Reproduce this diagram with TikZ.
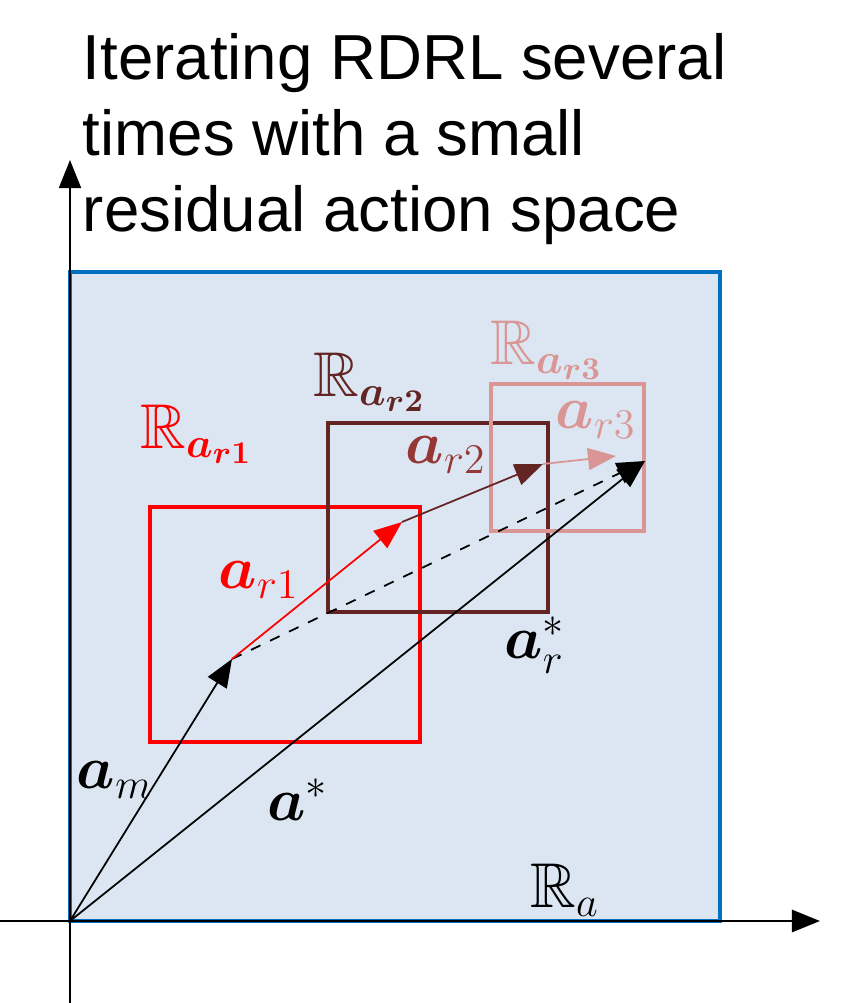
\documentclass[tikz,border=0pt]{standalone}
\usepackage{fontspec}
\usepackage{amsmath,amssymb,bm}
\usetikzlibrary{arrows.meta}
\newfontfamily\titlefont{Liberation Sans}
\definecolor{nenxanh}{RGB}{220,230,242}
\definecolor{vienxanh}{RGB}{0,112,192}
\definecolor{naudam}{RGB}{99,37,35}
\definecolor{nauvua}{RGB}{149,55,53}
\definecolor{hong}{RGB}{218,150,148}
\begin{document}
\begin{tikzpicture}[>={Triangle[length=2.8mm,width=2.2mm]}, line width=.5pt,
    nhan/.style={inner sep=0pt, font=\fontsize{18}{20}\selectfont},
    hop/.style={line width=1pt}]
    \useasboundingbox (-.7,-.82) rectangle (7.79,9.21);
    \coordinate (O) at (0,0); %Điểm O
    \coordinate (xt) at (-.7,0); \coordinate (xp) at (7.5,0);
    \coordinate (yd) at (0,-.82); \coordinate (yt) at (0,7.61);
    \coordinate (M) at (1.62,2.62); %Ngọn a_m
    \coordinate (P1) at (3.32,3.99);
    \coordinate (P2) at (4.73,4.57);
    \coordinate (P3) at (5.46,4.65);
    \coordinate (A) at (5.75,4.60); %Ngọn a^*
    \draw[hop, fill=nenxanh, draw=vienxanh] (O) rectangle (6.5,6.49); %Miền R_a
    \draw[->, line width=.8pt] (xt) -- (xp); %Trục Ox
    \draw[->] (yd) -- (yt); %Trục Oy
    \node[anchor=base west, align=left, inner sep=0pt, font=\titlefont\fontsize{18.1}{21.6}\selectfont] (tieude) at (.12,6.90)
        {Iterating RDRL several\\times with a small\\residual action space};
    \draw[hop, red] (.8,1.79) rectangle (3.5,4.14);
    \draw[hop, naudam] (2.58,3.09) rectangle (4.78,4.98);
    \draw[hop, hong] (4.21,3.90) rectangle (5.74,5.37);
    \draw[->] (O) -- (M);
    \draw[->] (O) -- (A);
    \draw[->, dashed] (M) -- (A);
    \draw[->, red] (M) -- (P1);
    \draw[->, naudam] (P1) -- (P2);
    \draw[->, hong] (P2) -- (P3);
    \node[nhan, text=red] (Rr1) at (1.27,4.87) {$\mathbb{R}_{\bm{a_{r1}}}$};
    \node[nhan, text=naudam] (Rr2) at (3.00,5.39) {$\mathbb{R}_{\bm{a_{r2}}}$};
    \node[nhan, text=hong] (Rr3) at (4.77,5.71) {$\mathbb{R}_{\bm{a_{r3}}}$};
    \node[nhan, text=red] (ar1) at (1.89,3.41) {$\bm{a}_{r1}$};
    \node[nhan, text=nauvua] (ar2) at (3.76,4.66) {$\bm{a}_{r2}$};
    \node[nhan, text=hong] (ar3) at (5.26,5.01) {$\bm{a}_{r3}$};
    \node[nhan] (arsao) at (4.65,2.76) {$\bm{a}_r^*$};
    \node[nhan] (am) at (.45,1.41) {$\bm{a}_m$};
    \node[nhan] (asao) at (2.28,1.21) {$\bm{a}^*$};
    \node[nhan] (Ra) at (4.95,.31) {$\mathbb{R}_a$};
\end{tikzpicture}
\end{document}
